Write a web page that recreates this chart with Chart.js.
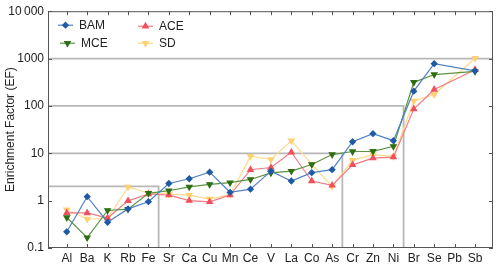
<!DOCTYPE html>
<html>
<head>
<meta charset="utf-8">
<script src="https://cdn.jsdelivr.net/npm/chart.js@4/dist/chart.umd.min.js"></script>
<style>
  html, body { margin: 0; padding: 0; background: #fff; }
  #wrap { width: 500px; height: 267px; }
</style>
</head>
<body>
<div id="wrap"><canvas id="chart" width="500" height="267"></canvas></div>
<script>
const elements = ['Al', 'Ba', 'K', 'Rb', 'Fe', 'Sr', 'Ca', 'Cu', 'Mn', 'Ce', 'V', 'La', 'Co', 'As', 'Cr', 'Zn', 'Ni', 'Br', 'Se', 'Pb', 'Sb'];

const bam = [0.22, 1.21, 0.35, 0.67, 0.95, 2.3, 2.9, 4.0, 1.5, 1.75, 4.2, 2.6, 3.9, 4.5, 17.5, 26, 18.5, 205, 780, null, 550];
const mce = [0.44, 0.165, 0.62, 0.66, 1.43, 1.62, 1.95, 2.2, 2.4, 2.8, 3.85, 4.2, 5.8, 9.4, 10.9, 11, 14, 315, 460, null, 535];
const ace = [0.55, 0.55, 0.43, 0.99, 1.38, 1.31, 1.0, 0.94, 1.31, 4.5, 5.0, 10.5, 2.6, 2.1, 5.7, 7.9, 8.3, 86, 222, null, 580];
const sd = [0.64, 0.41, 0.42, 1.95, 1.45, 1.37, 1.31, 1.08, 1.35, 8.7, 7.4, 18.4, 5.9, 2.0, 7.1, 9.4, 8.5, 127, 174, null, 1015];

const yTicks = [0.1, 1, 10, 100, 1000, 10000];

// grouping thresholds: level and the break between element groups
const refLevels = [2, 10, 100, 1000];
const refBreaks = [4.5, 13.5, 16.5, null];

const xMin = -0.92, xMax = 20.88;

function pts(values) {
  return values.map((v, i) => ({ x: i, y: v }));
}

function series(label, values, color, lineColor, style, rotation) {
  return {
    label: label,
    data: pts(values),
    borderColor: lineColor,
    backgroundColor: color,
    pointBorderColor: color,
    pointBackgroundColor: color,
    borderWidth: 1.2,
    pointStyle: style,
    pointRotation: rotation,
    pointRadius: style === 'rectRot' ? 2.8 : 3.2,
    spanGaps: true,
    order: 1
  };
}

const refSets = refLevels.map((lv, i) => {
  const b = refBreaks[i];
  const data = b === null
    ? [{ x: xMin, y: lv }, { x: xMax, y: lv }]
    : [{ x: xMin, y: lv }, { x: b, y: lv }, { x: b, y: 0.1 }];
  return {
    label: '_ref' + i,
    data: data,
    borderColor: '#b8b8b8',
    borderWidth: 1.8,
    pointRadius: 0,
    order: 10
  };
});

const datasets = [
  series('BAM', bam, '#1f5aa6', '#4f82c4', 'rectRot', 0),
  series('MCE', mce, '#2f6e14', '#5c9440', 'triangle', 180),
  series('ACE', ace, '#f0505c', '#f27a82', 'triangle', 0),
  series('SD', sd, '#ffd070', '#ffd98c', 'triangle', 180)
].concat(refSets);

const framePlugin = {
  id: 'frame',
  afterDatasetsDraw(chart) {
    const { ctx, chartArea: a, scales } = chart;
    ctx.save();
    ctx.strokeStyle = '#555';
    ctx.lineWidth = 1;
    ctx.strokeRect(a.left + 0.5, a.top + 0.5, a.right - a.left - 1, a.bottom - a.top - 1);
    ctx.beginPath();
    elements.forEach((e, i) => {
      const x = Math.round(scales.x.getPixelForValue(i)) + 0.5;
      ctx.moveTo(x, a.top); ctx.lineTo(x, a.top + 4);
      ctx.moveTo(x, a.bottom); ctx.lineTo(x, a.bottom - 4);
    });
    yTicks.forEach(v => {
      const y = Math.round(scales.y.getPixelForValue(v)) + 0.5;
      ctx.moveTo(a.left, y); ctx.lineTo(a.left + 4, y);
      ctx.moveTo(a.right, y); ctx.lineTo(a.right - 4, y);
    });
    ctx.stroke();

    // legend, two columns
    const items = [
      { ds: chart.data.datasets[0], x: a.left + 10, y: a.top + 14 },
      { ds: chart.data.datasets[2], x: a.left + 90, y: a.top + 15 },
      { ds: chart.data.datasets[1], x: a.left + 12, y: a.top + 32 },
      { ds: chart.data.datasets[3], x: a.left + 90, y: a.top + 32 }
    ];
    ctx.font = '12px "Liberation Sans", Arial, sans-serif';
    ctx.textBaseline = 'middle';
    ctx.fillStyle = '#222';
    items.forEach(it => {
      const ds = it.ds;
      ctx.strokeStyle = ds.borderColor;
      ctx.lineWidth = 1.2;
      ctx.beginPath();
      ctx.moveTo(it.x, it.y); ctx.lineTo(it.x + 15, it.y);
      ctx.stroke();
      ctx.fillStyle = ds.pointBackgroundColor;
      ctx.strokeStyle = ds.pointBorderColor;
      Chart.helpers.drawPoint(ctx, {
        pointStyle: ds.pointStyle, rotation: ds.pointRotation,
        radius: ds.pointRadius, borderWidth: 1
      }, it.x + 7.5, it.y);
      ctx.fillStyle = '#222';
      ctx.fillText(ds.label, it.x + 21, it.y);
    });
    ctx.restore();
  }
};

new Chart(document.getElementById('chart'), {
  type: 'line',
  data: { datasets: datasets },
  options: {
    responsive: false,
    animation: false,
    layout: { padding: { top: 9, right: 7, left: 0, bottom: 0 } },
    plugins: { legend: { display: false }, tooltip: { enabled: false } },
    scales: {
      x: {
        type: 'linear',
        min: xMin,
        max: xMax,
        afterBuildTicks: s => { s.ticks = elements.map((e, i) => ({ value: i })); },
        afterFit: s => { s.height = 19; },
        grid: { display: false, drawTicks: false },
        border: { display: false },
        ticks: {
          autoSkip: false,
          maxRotation: 0,
          padding: 3,
          color: '#222',
          font: { family: '"Liberation Sans", Arial, sans-serif', size: 12 },
          callback: v => elements[v]
        }
      },
      y: {
        type: 'logarithmic',
        min: 0.1,
        max: 10000,
        afterBuildTicks: s => { s.ticks = yTicks.map(v => ({ value: v })); },
        afterFit: s => { s.width = 48; },
        grid: { display: false, drawTicks: false },
        border: { display: false },
        title: {
          display: true,
          text: 'Enrichment Factor (EF)',
          color: '#222',
          padding: { top: 3, bottom: 0 },
          font: { family: '"Liberation Sans", Arial, sans-serif', size: 12 }
        },
        ticks: {
          padding: 4,
          color: '#222',
          font: { family: '"Liberation Sans", Arial, sans-serif', size: 12 },
          callback: v => v === 10000 ? '10\u2009000' : String(v)
        }
      }
    }
  },
  plugins: [framePlugin]
});
</script>
</body>
</html>
